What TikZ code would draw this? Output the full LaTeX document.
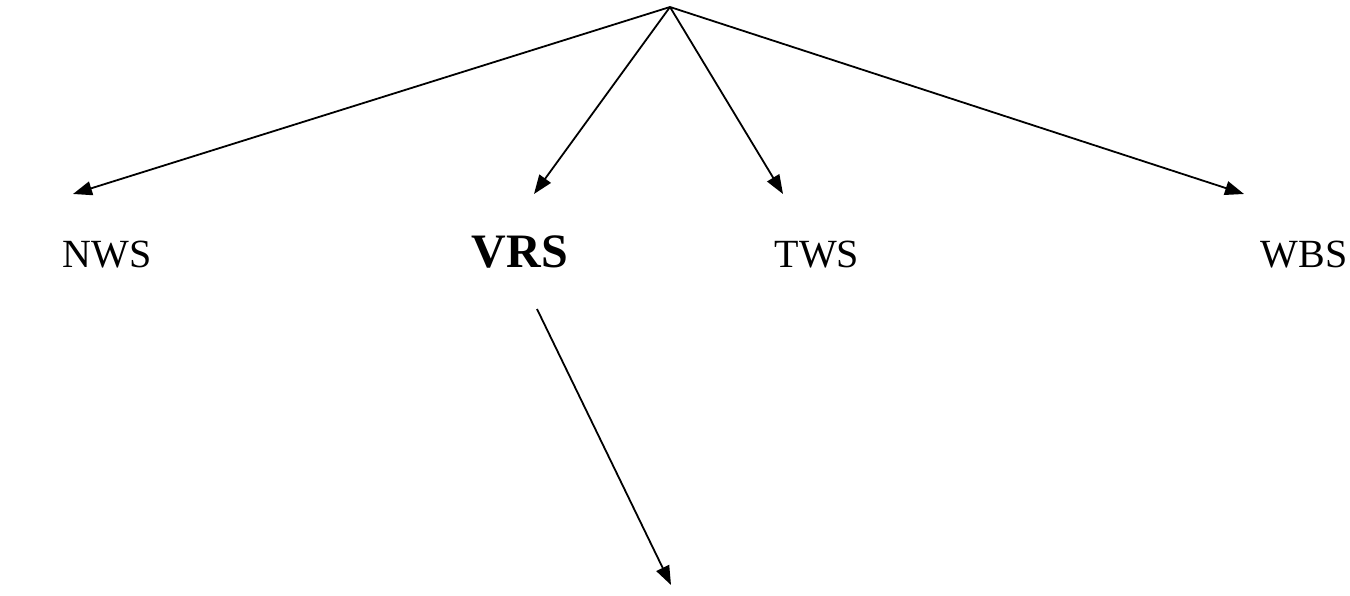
\documentclass[tikz,border=0pt]{standalone}
\usepackage{fontspec}
\setmainfont{Liberation Serif}
\usetikzlibrary{arrows.meta}
\begin{document}
\begin{tikzpicture}[x=1pt,y=-1pt,
  link/.style={line width=1.8pt,-{Triangle[length=19pt,width=14pt]}},
  label/.style={anchor=base,inner sep=0pt,font=\fontsize{40}{48}\selectfont},
  mainlabel/.style={label,font=\fontsize{48}{56}\selectfont\bfseries}]
  \useasboundingbox (0,0) rectangle (1350,596);
  % root of the branches
  \coordinate (root) at (670,7);
  % arrow tips
  \coordinate (tNWS) at (73,194);
  \coordinate (tVRS) at (534,194);
  \coordinate (tTWS) at (783,194);
  \coordinate (tWBS) at (1244,194);
  \coordinate (vrsFrom) at (537,309);
  \coordinate (vrsTo) at (671,585);
  % labels
  \node[label] (NWS) at (107,268) {NWS};
  \node[mainlabel] (VRS) at (520,268) {VRS};
  \node[label] (TWS) at (817,268) {TWS};
  \node[label] (WBS) at (1304,268) {WBS};
  % connectors
  \draw[link] (root) -- (tNWS);
  \draw[link] (root) -- (tVRS);
  \draw[link] (root) -- (tTWS);
  \draw[link] (root) -- (tWBS);
  \draw[link] (vrsFrom) -- (vrsTo);
\end{tikzpicture}
\end{document}
